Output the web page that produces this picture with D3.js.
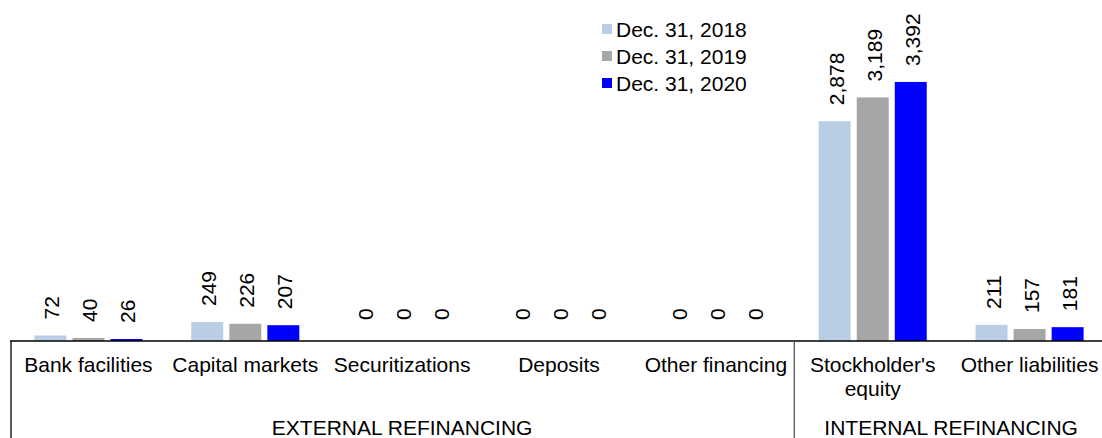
<!DOCTYPE html>
<html>
<head>
<meta charset="utf-8">
<script src="https://cdn.jsdelivr.net/npm/d3@7"></script>
<style>
  body { margin: 0; background: #fff; }
  svg { display: block; font-family: "Liberation Sans", Arial, sans-serif; }
</style>
</head>
<body>
<div id="chart"></div>
<script>
// Chart data
const categories = ["Bank facilities", "Capital markets", "Securitizations", "Deposits",
    "Other financing", "Stockholder's equity", "Other liabilities"];
const series = ["Dec. 31, 2018", "Dec. 31, 2019", "Dec. 31, 2020"];
const values2018 = [72, 249, 0, 0, 0, 2878, 211];
const values2019 = [40, 226, 0, 0, 0, 3189, 157];
const values2020 = [26, 207, 0, 0, 0, 3392, 181];
const groups = [
    { name: "EXTERNAL REFINANCING", from: 0, to: 4 },
    { name: "INTERNAL REFINANCING", from: 5, to: 6 }
];

const colors = ["#b9cde5", "#a6a6a6", "#0000ff"];
const width = 1102, height = 438;
const baseY = 341;
const fontSize = 21;

const svg = d3.select('#chart').append('svg')
    .attr('width', width)
    .attr('height', height);

// Scales
const x0 = d3.scaleBand().domain(categories).range([10, 1108]);
const x1 = d3.scaleBand().domain(series)
    .range([24.4, x0.bandwidth() - 24.4])
    .paddingInner(0.16);
const y = d3.scaleLinear().domain([0, 4465]).range([baseY, 0]);

const allValues = [values2018, values2019, values2020];
const barData = [];
categories.forEach((c, i) => {
    series.forEach((s, j) => {
        barData.push({ cat: c, series: s, idx: j, value: allValues[j][i] });
    });
});

// Bars
svg.append('g').selectAll('rect')
    .data(barData)
    .enter().append('rect')
    .attr('x', d => x0(d.cat) + x1(d.series))
    .attr('y', d => y(d.value))
    .attr('width', x1.bandwidth())
    .attr('height', d => baseY - y(d.value))
    .attr('fill', d => colors[d.idx]);

// Value labels (rotated)
const fmt = d3.format(",");
svg.append('g').selectAll('text')
    .data(barData)
    .enter().append('text')
    .attr('transform', d => {
        const cx = x0(d.cat) + x1(d.series) + x1.bandwidth() / 2 + 9;
        const gap = d.value === 0 ? 21 : 16;
        return `translate(${cx},${y(d.value) - gap}) rotate(-90)`;
    })
    .attr('font-size', fontSize)
    .attr('fill', '#000')
    .text(d => fmt(d.value));

// Axis line and separators
svg.append('line')
    .attr('x1', 10).attr('x2', width)
    .attr('y1', baseY).attr('y2', baseY)
    .attr('stroke', '#000').attr('stroke-width', 1.3);

const sepX = [x0.range()[0] + 1, x0(categories[5])];
svg.append('g').selectAll('line')
    .data(sepX)
    .enter().append('line')
    .attr('x1', d => d).attr('x2', d => d)
    .attr('y1', baseY).attr('y2', height)
    .attr('stroke', (d, i) => i === 0 ? '#000' : '#555')
    .attr('stroke-width', 1.3);

// Category labels
const catLabels = svg.append('g').selectAll('text')
    .data(categories)
    .enter().append('text')
    .attr('x', d => x0(d) + x0.bandwidth() / 2)
    .attr('y', 372)
    .attr('text-anchor', 'middle')
    .attr('font-size', fontSize)
    .attr('fill', '#000');

catLabels.each(function(d) {
    const lines = d === "Stockholder's equity" ? ["Stockholder's", "equity"] : [d];
    const t = d3.select(this);
    lines.forEach((l, i) => {
        t.append('tspan')
            .attr('x', x0(d) + x0.bandwidth() / 2)
            .attr('dy', i === 0 ? 0 : 24)
            .text(l);
    });
});

// Group labels
svg.append('g').selectAll('text')
    .data(groups)
    .enter().append('text')
    .attr('x', g => (x0(categories[g.from]) + x0(categories[g.to]) + x0.bandwidth()) / 2)
    .attr('y', 435)
    .attr('text-anchor', 'middle')
    .attr('font-size', fontSize)
    .attr('fill', '#000')
    .text(g => g.name);

// Legend
const legend = svg.append('g').attr('transform', 'translate(602,0)');
series.forEach((s, i) => {
    const by = 37 + i * 27;
    legend.append('rect')
        .attr('x', 0).attr('y', by - 13)
        .attr('width', 10).attr('height', 10)
        .attr('fill', colors[i]);
    legend.append('text')
        .attr('x', 14).attr('y', by)
        .attr('font-size', fontSize)
        .attr('fill', '#000')
        .text(s);
});
</script>
</body>
</html>
